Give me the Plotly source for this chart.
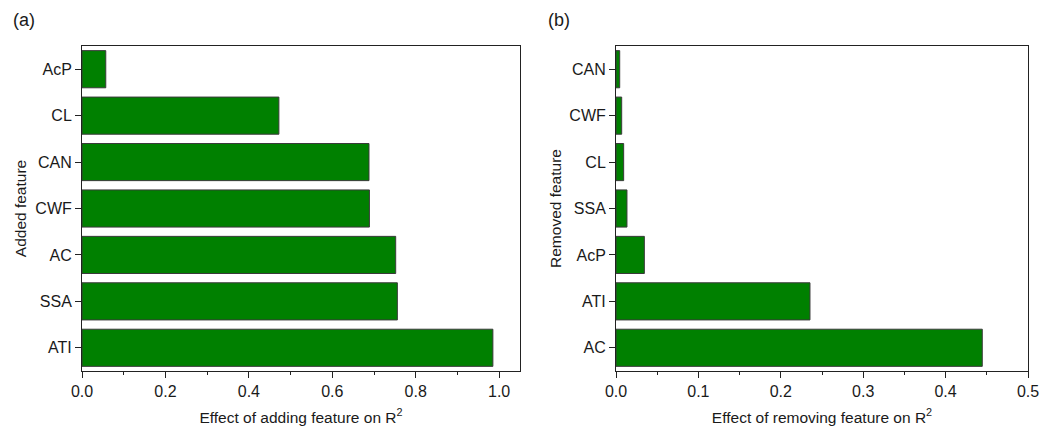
import plotly.graph_objects as go

# Panel (a): effect of adding feature (top to bottom)
added_features = ["AcP", "CL", "CAN", "CWF", "AC", "SSA", "ATI"]
added_effect = [0.057, 0.472, 0.688, 0.689, 0.752, 0.756, 0.985]

# Panel (b): effect of removing feature (top to bottom)
removed_features = ["CAN", "CWF", "CL", "SSA", "AcP", "ATI", "AC"]
removed_effect = [0.0045, 0.0069, 0.0093, 0.0133, 0.0344, 0.2354, 0.4445]

FONT = "Liberation Sans, Arial, sans-serif"
GREEN = "#008000"
EDGE = "#3a3a3a"
TXT = "#1a1a1a"

fig = go.Figure()
fig.add_trace(go.Bar(x=added_effect, y=added_features, orientation="h",
                     marker=dict(color=GREEN, line=dict(color=EDGE, width=1)),
                     width=0.8, xaxis="x", yaxis="y", showlegend=False))
fig.add_trace(go.Bar(x=removed_effect, y=removed_features, orientation="h",
                     marker=dict(color=GREEN, line=dict(color=EDGE, width=1)),
                     width=0.8, xaxis="x2", yaxis="y2", showlegend=False))

W, H = 1042, 428
ytop = 1 - 46 / H
ybot = 1 - 371 / H

axis_common = dict(showline=True, linecolor="#222", linewidth=1, mirror=True,
                   ticks="outside", ticklen=6, tickwidth=1, tickcolor="#222",
                   showgrid=False, zeroline=False,
                   tickfont=dict(family=FONT, size=16, color=TXT))

TSIZE = 15.5

fig.update_layout(
    width=W, height=H,
    margin=dict(l=0, r=0, t=0, b=0),
    paper_bgcolor="white", plot_bgcolor="white",
    font=dict(family=FONT, size=16, color=TXT),
    bargap=0.2,
    xaxis=dict(domain=[82 / W, 520 / W], range=[0, 1.05], anchor="y",
               dtick=0.2, tickformat=".1f",
               minor=dict(ticks="outside", ticklen=3, dtick=0.1, tickcolor="#222"),
               title=dict(text="Effect of adding feature on R<sup>2</sup>",
                          font=dict(family=FONT, size=TSIZE), standoff=12),
               automargin=False, **axis_common),
    yaxis=dict(domain=[ybot, ytop], range=[6.5, -0.5], anchor="x",
               type="category",
               title=dict(text="Added feature", font=dict(family=FONT, size=TSIZE), standoff=4),
               automargin=False, **axis_common),
    xaxis2=dict(domain=[616 / W, 1028 / W], range=[0, 0.5], anchor="y2",
                dtick=0.1, tickformat=".1f",
                minor=dict(ticks="outside", ticklen=3, dtick=0.05, tickcolor="#222"),
                title=dict(text="Effect of removing feature on R<sup>2</sup>",
                           font=dict(family=FONT, size=TSIZE), standoff=12),
                automargin=False, **axis_common),
    yaxis2=dict(domain=[ybot, ytop], range=[6.5, -0.5], anchor="x2",
                type="category",
                title=dict(text="Removed feature", font=dict(family=FONT, size=TSIZE), standoff=3),
                automargin=False, **axis_common),
    annotations=[
        dict(text="(a)", x=11 / W, y=1 - 20 / H, xref="paper", yref="paper",
             xanchor="left", yanchor="middle", showarrow=False,
             font=dict(family=FONT, size=18, color=TXT)),
        dict(text="(b)", x=546 / W, y=1 - 20 / H, xref="paper", yref="paper",
             xanchor="left", yanchor="middle", showarrow=False,
             font=dict(family=FONT, size=18, color=TXT)),
    ],
)

fig.write_html("out.html", config={"displayModeBar": False},
               post_script="document.body.style.margin='0';document.body.style.padding='0';")
